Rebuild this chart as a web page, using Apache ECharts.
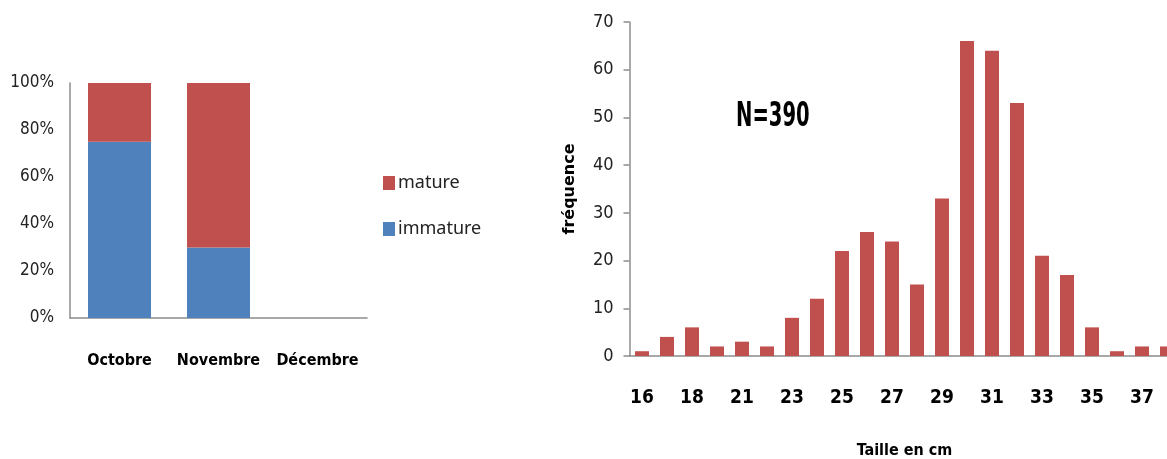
<!DOCTYPE html>
<html><head><meta charset="utf-8">
<script src="https://cdn.jsdelivr.net/npm/echarts@6/dist/echarts.min.js"></script>
<style>html,body{margin:0;padding:0;background:#fff}#c{width:1167px;height:459px}</style>
</head><body><div id="c"></div>
<script>
// Left chart: maturity by month (%)
const months = ['Octobre', 'Novembre', 'Décembre'];
const immature = [75, 30, null];
const mature = [25, 70, null];
const pctTicks = [0, 20, 40, 60, 80, 100];

// Right chart: size frequency
const sizes = ['16','17','18','20','21','22','23','24','25','26','27','28','29','30','31','32','33','34','35','36','37','38'];
const freq = [1,4,6,2,3,2,8,12,22,26,24,15,33,66,64,53,21,17,6,1,2,2];
const nLabel = 'N=390';

const RED = '#C0504D', BLUE = '#4F81BD', AXIS = '#8c8c8c';
const NARROW = '"DejaVu Sans Condensed",sans-serif';

const chart = echarts.init(document.getElementById('c'));
chart.setOption({
  animation: false,
  backgroundColor: '#fff',
  legend: {
    data: ['mature', 'immature'],
    orient: 'vertical', left: 383, top: 174, padding: 0,
    itemWidth: 12, itemHeight: 14, itemGap: 28,
    icon: 'rect',
    textStyle: { fontFamily: '"Noto Sans",sans-serif', fontSize: 18, color: '#222', padding: [0,0,0,-2] }
  },
  graphic: [{
    type: 'text', x: 736, y: 101, scaleX: 0.66,
    style: { text: nLabel, font: 'bold 33px ' + NARROW, fill: '#000' }
  }],
  grid: [
    { left: 70, top: 83, width: 297, height: 235, outerBoundsMode: 'none', containLabel: false },
    { left: 629.5, top: 22, width: 550, height: 334, outerBoundsMode: 'none', containLabel: false }
  ],
  xAxis: [{
    gridIndex: 0, type: 'category', data: months,
    axisLine: { lineStyle: { color: AXIS, width: 1.5 } },
    axisTick: { show: false },
    axisLabel: { interval: 0, margin: 35, fontFamily: NARROW, fontWeight: 'bold', fontSize: 16, color: '#000' }
  }, {
    gridIndex: 1, type: 'category', data: sizes,
    axisLine: { lineStyle: { color: AXIS, width: 1.5 } },
    axisTick: { show: false },
    axisLabel: { interval: 1, margin: 33, fontFamily: NARROW, fontWeight: 'bold', fontSize: 19, color: '#000' },
    name: 'Taille en cm', nameLocation: 'middle', nameGap: 87,
    nameTextStyle: { fontFamily: NARROW, fontWeight: 'bold', fontSize: 16, color: '#000' }
  }],
  yAxis: [{
    gridIndex: 0, type: 'value', min: 0, max: 100, interval: 20,
    axisLine: { show: true, lineStyle: { color: AXIS, width: 1.5 } },
    axisTick: { show: false },
    splitLine: { show: false },
    axisLabel: { margin: 16, formatter: v => pctTicks.includes(v) ? v + '%' : '', fontFamily: NARROW, fontSize: 17, color: '#222' }
  }, {
    gridIndex: 1, type: 'value', min: 0, max: 70, interval: 10,
    axisLine: { show: true, lineStyle: { color: AXIS, width: 1.5 } },
    axisTick: { show: true, length: 6, lineStyle: { color: AXIS, width: 1.5 } },
    splitLine: { show: false },
    axisLabel: { margin: 16, fontFamily: NARROW, fontSize: 18, color: '#222' },
    name: 'fréquence', nameLocation: 'middle', nameGap: 52, nameRotate: 90,
    nameTextStyle: { fontFamily: '"DejaVu Sans",sans-serif', fontWeight: 'bold', fontSize: 16, color: '#000' }
  }],
  series: [
    { name: 'immature', type: 'bar', stack: 'm', xAxisIndex: 0, yAxisIndex: 0, data: immature, barWidth: 63, itemStyle: { color: BLUE } },
    { name: 'mature', type: 'bar', stack: 'm', xAxisIndex: 0, yAxisIndex: 0, data: mature, barWidth: 63, itemStyle: { color: RED } },
    { name: 'fréquence', type: 'bar', xAxisIndex: 1, yAxisIndex: 1, data: freq, barWidth: 14, itemStyle: { color: RED } }
  ]
});
</script></body></html>
